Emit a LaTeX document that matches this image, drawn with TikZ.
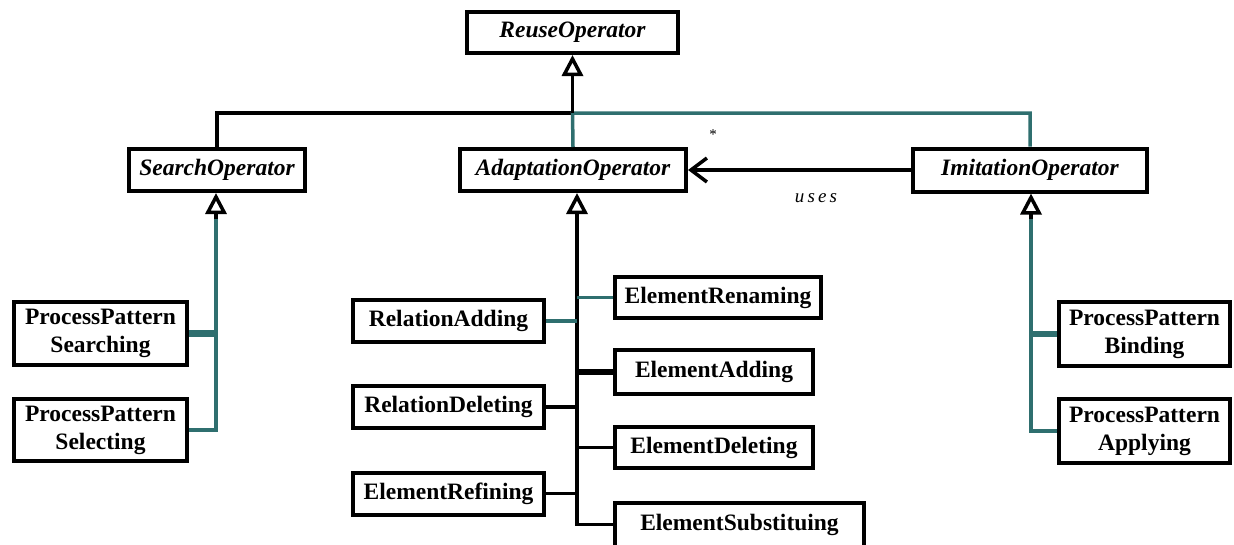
\documentclass[tikz,border=0pt]{standalone}
\usepackage{fontspec}
\setmainfont{Liberation Serif}
\usetikzlibrary{arrows.meta}
\definecolor{linkteal}{RGB}{47,111,111}

\begin{document}
\begin{tikzpicture}[x=1pt,y=-1pt,
  box/.style={draw, line width=4pt, inner sep=0pt, align=center,
    font=\fontsize{23.5}{28}\selectfont\bfseries},
  abstractbox/.style={box, font=\fontsize{23.5}{28}\selectfont\bfseries\itshape},
  blk/.style={line width=3.5pt, black},
  tl/.style={line width=3.5pt, linkteal},
  tlthick/.style={line width=6.5pt, linkteal},
  gen/.style={-{Triangle[open, length=21pt, width=21pt]}},
  navig/.style={-{Straight Barb[length=16pt, width=24pt]}}
]
\useasboundingbox (0,0) rectangle (1234,544);

% abstract operators
\node[abstractbox, minimum width=211pt, minimum height=41pt] (reuse) at (572.5,32.5) {ReuseOperator};
\node[abstractbox, minimum width=176pt, minimum height=42pt] (search) at (217,170) {SearchOperator};
\node[abstractbox, minimum width=226pt, minimum height=42pt] (adapt) at (573,170) {AdaptationOperator};
\node[abstractbox, minimum width=234pt, minimum height=43pt] (imit) at (1030,170) {ImitationOperator};

% search operators
\node[box, minimum width=173pt, minimum height=63pt] (ppsearch) at (100.5,333.5) {ProcessPattern\\Searching};
\node[box, minimum width=173pt, minimum height=62pt] (ppselect) at (100.5,430) {ProcessPattern\\Selecting};

% imitation operators
\node[box, minimum width=171pt, minimum height=64pt] (ppbind) at (1144.5,334) {ProcessPattern\\Binding};
\node[box, minimum width=171pt, minimum height=64pt] (ppapply) at (1144.5,431) {ProcessPattern\\Applying};

% adaptation operators
\node[box, minimum width=191pt, minimum height=42pt] (reladd) at (448.5,321) {RelationAdding};
\node[box, minimum width=191pt, minimum height=42pt] (reldel) at (448.5,407) {RelationDeleting};
\node[box, minimum width=191pt, minimum height=42pt] (elref) at (448.5,493.5) {ElementRefining};
\node[box, minimum width=206pt, minimum height=41pt] (elren) at (718,297.5) {ElementRenaming};
\node[box, minimum width=198pt, minimum height=44pt] (eladd) at (714,372) {ElementAdding};
\node[box, minimum width=198pt, minimum height=41pt] (eldel) at (714,447.5) {ElementDeleting};
\node[box, minimum width=249pt, minimum height=44pt] (elsub) at (739.5,524.5) {ElementSubstituing};

% junction points
\coordinate (hub) at (572.5,113);
\coordinate (sj) at (216,219);
\coordinate (aj) at (577,219);
\coordinate (ij) at (1031,219);

% top-level generalisation
\draw[blk] (search.north) |- (hub);
\draw[tl] (adapt.north) -- (hub) -| (imit.north);
\draw[blk, gen] (hub) -- (reuse.south);

% association
\draw[blk, navig] (imit.west) -- (adapt.east);
\node[font=\fontsize{15}{16}\selectfont] (mult) at (713,135) {*};
\node[font=\fontsize{19}{22}\selectfont\itshape, inner sep=0pt] (uses) at (816,198) {u\,s\,e\,s};

% search subtree
\draw[tl] (sj) |- (ppselect.east);
\draw[tlthick] (ppsearch.east) -- (ppsearch.east -| sj);
\draw[blk, gen] (sj) -- (sj |- search.south);

% adaptation subtree
\draw[blk] (aj) |- (elsub.west);
\draw[tl] (reladd.east) -- (reladd.east -| aj);
\draw[tl] (elren.west) -- (elren.west -| aj);
\draw[line width=6.5pt] (eladd.west) -- (eladd.west -| aj);
\draw[blk] (reldel.east) -- (reldel.east -| aj);
\draw[blk] (eldel.west) -- (eldel.west -| aj);
\draw[blk] (elref.east) -- (elref.east -| aj);
\draw[blk, gen] (aj) -- (aj |- adapt.south);

% imitation subtree
\draw[tl] (ij) |- (ppapply.west);
\draw[tlthick] (ppbind.west) -- (ppbind.west -| ij);
\draw[blk, gen] (ij) -- (ij |- imit.south);
\end{tikzpicture}
\end{document}
